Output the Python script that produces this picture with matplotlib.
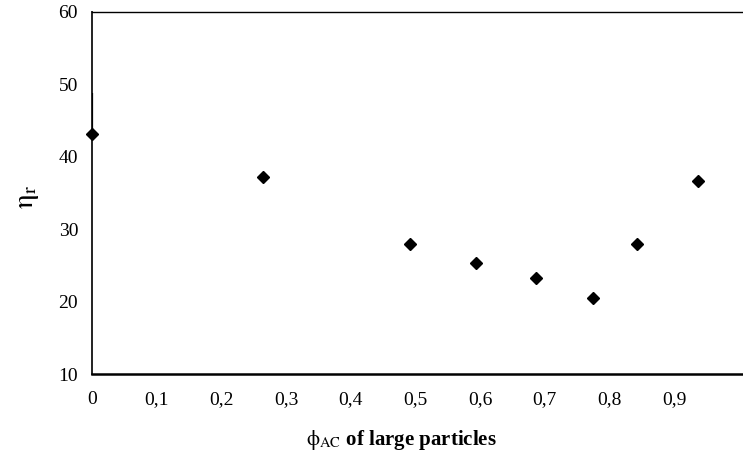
import numpy as np
import matplotlib
matplotlib.use("Agg")
import matplotlib.pyplot as plt

# ── Data ──────────────────────────────────────────────────────────────────────
phi_ac = [0.0, 0.265, 0.491, 0.593, 0.686, 0.775, 0.843, 0.936]
eta_r  = [43.1, 37.2, 27.9, 25.3, 23.2, 20.5, 27.9, 36.7]
err_first = 5.7                     # bar on the first point (upper)

x_ticks = [0.0, 0.1, 0.2, 0.3, 0.4, 0.5, 0.6, 0.7, 0.8, 0.9]
x_labels = ["0", "0,1", "0,2", "0,3", "0,4", "0,5", "0,6", "0,7", "0,8", "0,9"]
y_ticks = [10, 20, 30, 40, 50, 60]

# ── Style ─────────────────────────────────────────────────────────────────────
plt.rcParams['font.family'] = ['Liberation Serif', 'DejaVu Serif']
plt.rcParams['mathtext.fontset'] = 'stix'

W, H = 743, 465
fig = plt.figure(figsize=(W / 100, H / 100), dpi=100)
ax = fig.add_axes([92 / W, (H - 374) / H, 651 / W, 362 / H])

ax.plot(phi_ac, eta_r, linestyle='none', marker='D', ms=6,
        color='black', zorder=5, clip_on=False)
ax.vlines(phi_ac[0], eta_r[0], eta_r[0] + err_first, color='black', lw=1.6,
          zorder=4)

ax.set_xlim(0, 651 / 647)
ax.set_ylim(10, 60)
ax.set_xticks(x_ticks, x_labels)
ax.set_yticks(y_ticks)
ax.tick_params(length=0, labelsize=14)
ax.tick_params(axis='x', pad=12)
ax.tick_params(axis='y', pad=10)

ax.spines['right'].set_visible(False)
ax.spines['top'].set_linewidth(1.0)
ax.spines['left'].set_linewidth(1.4)
ax.spines['left'].set_color('#222222')
ax.spines['bottom'].set_linewidth(1.8)

ax.set_ylabel(r"$\mathrm{\eta}_\mathrm{r}$", fontsize=21, va='center')
ax.yaxis.set_label_coords(-0.098, 0.49)
ax.set_xlabel(r"$\mathrm{\phi}_{\mathrm{AC}}$ of large particles", fontsize=15,
              fontweight='bold', va='center')
ax.xaxis.set_label_coords(0.475, -0.183)

fig.savefig("out.png", dpi=100)
